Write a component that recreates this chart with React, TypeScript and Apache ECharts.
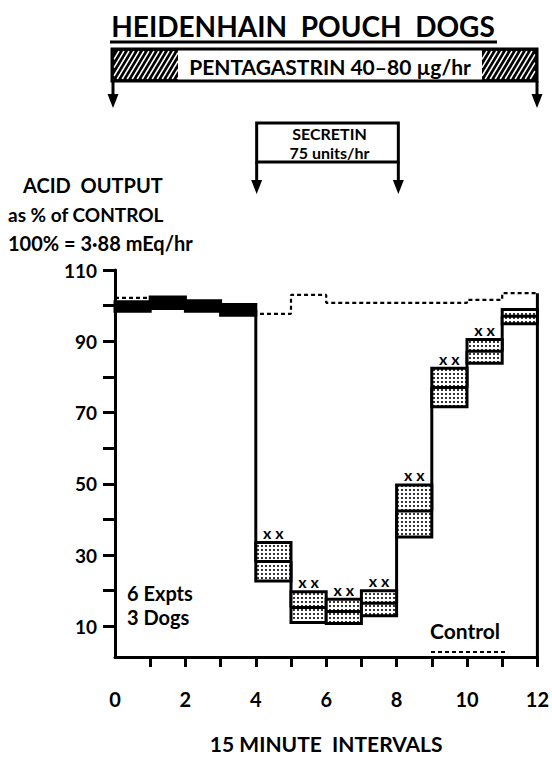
import { useEffect, useRef } from "react";
import * as echarts from "echarts";

// ---- Data ----
const INTERVAL_STARTS = [0, 1, 2, 3, 4, 5, 6, 7, 8, 9, 10, 11];
const TREAT_MEAN = [99.7, 100.8, 100.0, 98.8, 28.2, 15.3, 14.2, 16.5, 42.4, 77.0, 87.2, 97.0];
const TREAT_LOW = [98.4, 99.2, 98.4, 97.3, 22.7, 11.1, 10.8, 13.0, 35.1, 71.6, 83.8, 94.9];
const TREAT_HIGH = [101.1, 102.4, 101.4, 100.3, 33.5, 19.7, 17.6, 20.0, 49.7, 82.4, 90.5, 98.9];
const SIGNIF = ["", "", "", "", "xx", "xx", "xx", "xx", "xx", "xx", "xx", ""];
const CONTROL = [102.2, 101.8, 100.8, 99.5, 97.7, 103.0, 100.8, 100.8, 100.8, 100.8, 101.6, 103.5];
const X_TICKS = [1, 2, 3, 4, 5, 6, 7, 8, 9, 10, 11, 12];
const X_LABELS = [0, 2, 4, 6, 8, 10, 12];
const Y_TICKS = [10, 20, 30, 40, 50, 60, 70, 80, 90, 100, 110];
const Y_LABELS = [10, 30, 50, 70, 90, 110];
const X_MIN = 0;
const X_MAX = 12;
const Y_MIN = 1.4;
const Y_MAX = 110;
const SECRETIN_START = 4;
const SECRETIN_END = 8;

const FONT = "Lato, 'DejaVu Sans', sans-serif";

function dotPattern() {
  const c = document.createElement("canvas");
  c.width = 4;
  c.height = 4;
  const ctx = c.getContext("2d")!;
  ctx.fillStyle = "#fff";
  ctx.fillRect(0, 0, 4, 4);
  ctx.fillStyle = "#000";
  ctx.beginPath();
  ctx.arc(2, 2, 1.05, 0, Math.PI * 2);
  ctx.fill();
  return { image: c.toDataURL(), repeat: "repeat", imageWidth: 4, imageHeight: 4 };
}

function hatch(x0: number, x1: number, y0: number, y1: number, spacing: number, slant: number) {
  const h = y1 - y0;
  const dx = h * slant;
  const out: any[] = [];
  for (let t = x0 - dx; t <= x1; t += spacing) {
    let s0 = 0;
    let s1 = 1;
    const a = (x0 - t) / dx;
    const b = (x1 - t) / dx;
    s0 = Math.max(s0, Math.min(a, b));
    s1 = Math.min(s1, Math.max(a, b));
    if (s1 <= s0) continue;
    out.push({
      type: "line",
      shape: { x1: t + s0 * dx, y1: y1 - s0 * h, x2: t + s1 * dx, y2: y1 - s1 * h },
      style: { stroke: "#fff", lineWidth: 1.5 },
      silent: true,
    });
  }
  return out;
}

function arrow(x: number, yTop: number, yTip: number) {
  return [
    { type: "line", shape: { x1: x, y1: yTop, x2: x, y2: yTip - 10 }, style: { stroke: "#000", lineWidth: 3 } },
    {
      type: "polygon",
      shape: { points: [[x - 5.5, yTip - 14], [x + 5.5, yTip - 14], [x, yTip]] },
      style: { fill: "#000" },
    },
  ];
}

export default function App() {
  const ref = useRef<HTMLDivElement>(null);
  useEffect(() => {
    document.body.style.margin = "0";
    const chart = echarts.init(ref.current!, undefined, { renderer: "svg" });
    const pattern = dotPattern();

    const gridLeft = 115;
    const gridRight = 12;
    const gridTop = 270;
    const gridBottom = 87;
    const plotW = 552 - gridLeft - gridRight;
    const xPix = (v: number) => gridLeft + ((v - X_MIN) / (X_MAX - X_MIN)) * plotW;

    const boxData = INTERVAL_STARTS.map((s, i) => [s, TREAT_LOW[i], TREAT_HIGH[i], TREAT_MEAN[i]]);
    const stepTreat = INTERVAL_STARTS.map((s, i) => [s, TREAT_MEAN[i]]);
    stepTreat.push([X_MAX, TREAT_MEAN[TREAT_MEAN.length - 1]]);
    const stepControl = INTERVAL_STARTS.map((s, i) => [s, CONTROL[i]]);
    stepControl.push([X_MAX, CONTROL[CONTROL.length - 1]]);

    const pentaL = 112, pentaR = 537, pentaT = 49, pentaB = 81;
    const secL = xPix(SECRETIN_START), secR = xPix(SECRETIN_END);
    const secT = 123, secB = 162;

    const graphics: any[] = [
      {
        type: "text",
        style: { text: "HEIDENHAIN  POUCH  DOGS", x: 303, y: 26, align: "center", verticalAlign: "middle", font: `bold 28px ${FONT}`, fill: "#000" },
      },
      { type: "line", shape: { x1: 110, y1: 42, x2: 497, y2: 42 }, style: { stroke: "#000", lineWidth: 3 } },
      { type: "rect", shape: { x: pentaL, y: pentaT, width: 178 - pentaL, height: pentaB - pentaT }, style: { fill: "#000" } },
      { type: "rect", shape: { x: 482, y: pentaT, width: pentaR - 482, height: pentaB - pentaT }, style: { fill: "#000" } },
      ...hatch(pentaL + 2, 178, pentaT + 2, pentaB - 2, 5, 0.6),
      ...hatch(482, pentaR - 2, pentaT + 2, pentaB - 2, 5, 0.6),
      { type: "rect", shape: { x: pentaL, y: pentaT, width: pentaR - pentaL, height: pentaB - pentaT }, style: { fill: "none", stroke: "#000", lineWidth: 3 } },
      {
        type: "text",
        style: { text: "PENTAGASTRIN 40–80 µg/hr", x: 330, y: (pentaT + pentaB) / 2 + 1, align: "center", verticalAlign: "middle", font: `bold 21px ${FONT}`, fill: "#000" },
      },
      ...arrow(pentaL + 1, pentaB, 108),
      ...arrow(pentaR, pentaB, 108),
      { type: "rect", shape: { x: secL, y: secT, width: secR - secL, height: secB - secT }, style: { fill: "#fff", stroke: "#000", lineWidth: 3 } },
      {
        type: "text",
        style: { text: "SECRETIN", x: (secL + secR) / 2 + 2, y: 133, align: "center", verticalAlign: "middle", font: `bold 16px ${FONT}`, fill: "#000" },
      },
      {
        type: "text",
        style: { text: "75 units/hr", x: (secL + secR) / 2 + 2, y: 152, align: "center", verticalAlign: "middle", font: `bold 16px ${FONT}`, fill: "#000" },
      },
      ...arrow(secL, secB, 194),
      ...arrow(secR, secB, 194),
      { type: "text", style: { text: "ACID  OUTPUT", x: 23, y: 185, verticalAlign: "middle", font: `bold 20px ${FONT}`, fill: "#000" } },
      { type: "text", style: { text: "as % of CONTROL", x: 8, y: 214, verticalAlign: "middle", font: `bold 19px ${FONT}`, fill: "#000" } },
      { type: "text", style: { text: "100% = 3·88 mEq/hr", x: 8, y: 243, verticalAlign: "middle", font: `bold 20px ${FONT}`, fill: "#000" } },
      { type: "text", style: { text: "6 Expts", x: 127, y: 593, verticalAlign: "middle", font: `bold 20px ${FONT}`, fill: "#000" } },
      { type: "text", style: { text: "3 Dogs", x: 127, y: 617, verticalAlign: "middle", font: `bold 20px ${FONT}`, fill: "#000" } },
      { type: "text", style: { text: "Control", x: 430, y: 630, verticalAlign: "middle", font: `bold 21px ${FONT}`, fill: "#000" } },
      { type: "line", shape: { x1: 431, y1: 652, x2: 505, y2: 652 }, style: { stroke: "#000", lineWidth: 2, lineDash: [4, 3] } },
    ];

    chart.setOption({
      animation: false,
      backgroundColor: "#fff",
      grid: { left: gridLeft, right: gridRight, top: gridTop, bottom: gridBottom },
      xAxis: {
        type: "value",
        min: X_MIN,
        max: X_MAX,
        splitLine: { show: false },
        axisLine: { lineStyle: { color: "#000", width: 3 } },
        axisTick: { show: true, length: 10, lineStyle: { color: "#000", width: 3 }, customValues: X_TICKS },
        axisLabel: { customValues: X_LABELS, margin: 32, color: "#000", fontFamily: FONT, fontWeight: "bold", fontSize: 20 },
        name: "15 MINUTE  INTERVALS",
        nameLocation: "middle",
        nameGap: 76,
        nameTextStyle: { color: "#000", fontFamily: FONT, fontWeight: "bold", fontSize: 21 },
      },
      yAxis: {
        type: "value",
        min: Y_MIN,
        max: Y_MAX,
        splitLine: { show: false },
        axisLine: { show: true, lineStyle: { color: "#000", width: 3 } },
        axisTick: { show: true, length: 12, lineStyle: { color: "#000", width: 3 }, customValues: Y_TICKS },
        axisLabel: { customValues: Y_LABELS, margin: 18, color: "#000", fontFamily: FONT, fontWeight: "bold", fontSize: 19 },
      },
      graphic: graphics,
      series: [
        {
          name: "Control",
          type: "line",
          step: "end",
          data: stepControl,
          symbol: "none",
          lineStyle: { color: "#000", width: 2.2, type: [4, 3] },
          z: 1,
        },
        {
          name: "border",
          type: "line",
          data: [[X_MAX, CONTROL[CONTROL.length - 1]], [X_MAX, Y_MIN]],
          symbol: "none",
          lineStyle: { color: "#000", width: 3 },
          z: 2,
        },
        {
          name: "Pentagastrin + Secretin",
          type: "line",
          step: "end",
          data: stepTreat,
          symbol: "none",
          lineStyle: { color: "#000", width: 3 },
          z: 3,
        },
        {
          name: "SEM",
          type: "custom",
          data: boxData,
          encode: { x: 0, y: [1, 2] },
          z: 4,
          renderItem: (params: any, api: any) => {
            const s = api.value(0);
            const lo = api.value(1);
            const hi = api.value(2);
            const mean = api.value(3);
            const p0 = api.coord([s, hi]);
            const p1 = api.coord([s + 1, lo]);
            const pm = api.coord([s, mean]);
            const x = p0[0];
            const y = p0[1];
            const w = p1[0] - p0[0];
            const h = p1[1] - p0[1];
            const solid = hi - lo < 3.5;
            const children: any[] = [
              {
                type: "rect",
                shape: { x, y, width: w, height: h },
                style: { fill: solid ? "#000" : pattern, stroke: "#000", lineWidth: 3 },
              },
              {
                type: "line",
                shape: { x1: x, y1: pm[1], x2: x + w, y2: pm[1] },
                style: { stroke: "#000", lineWidth: 3 },
              },
            ];
            const sig = SIGNIF[params.dataIndex];
            if (sig) {
              children.push({
                type: "text",
                style: {
                  text: sig.split("").join(" "),
                  x: x + w / 2,
                  y: y - 10,
                  align: "center",
                  verticalAlign: "middle",
                  font: `bold 16px ${FONT}`,
                  fill: "#000",
                },
              });
            }
            return { type: "group", children };
          },
        },
      ],
    });
    return () => chart.dispose();
  }, []);
  return <div ref={ref} style={{ width: 552, height: 759, position: "fixed", left: 0, top: 0 }} />;
}
